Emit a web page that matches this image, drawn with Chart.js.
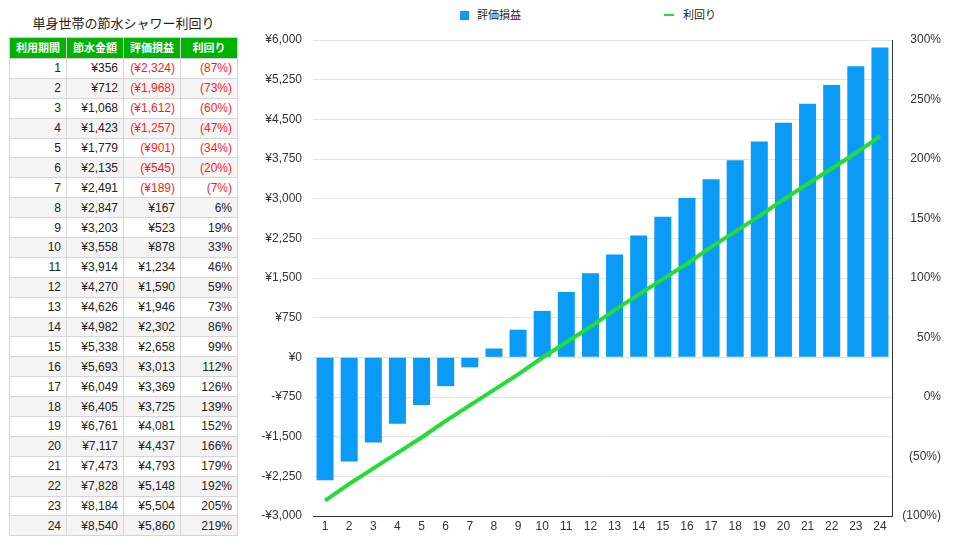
<!DOCTYPE html>
<html>
<head>
    <meta charset="utf-8">
    <title>単身世帯の節水シャワー利回り</title>
    <script src="https://cdn.jsdelivr.net/npm/chart.js"></script>
    <style>
        body {
            margin: 0;
            width: 960px;
            height: 545px;
            background: #fff;
            font-family: "Liberation Sans", Arial, "Noto Sans CJK JP", sans-serif;
            color: #222;
            position: relative;
            overflow: hidden;
        }
        .title {
            position: absolute;
            left: 9px;
            top: 13px;
            width: 229px;
            text-align: center;
            font-size: 13px;
        }
        table {
            position: absolute;
            left: 9px;
            top: 37px;
            width: 229px;
            border-collapse: collapse;
            table-layout: fixed;
            font-size: 12px;
        }
        th, td {
            border: 1px solid #d6d6d6;
            padding: 0 5px;
            height: 18.9px;
            line-height: 18px;
            text-align: right;
        }
        th {
            background: #00b300;
            color: #fff;
            font-size: 11px;
            text-align: center;
            height: 20px;
            padding: 0 2px;
            border-color: #d0d0d0;
        }
        tr:nth-child(odd) td { background: #f4f4f4; }
        .neg { color: #ff1a1a; }
        .legend {
            position: absolute;
            top: 8px;
            font-size: 11px;
            line-height: 14px;
        }
        .legend span.box {
            display: inline-block;
            width: 9px;
            height: 9px;
            vertical-align: -1px;
            margin-right: 8px;
        }
        .legend span.line {
            display: inline-block;
            width: 10px;
            height: 2px;
            vertical-align: 3px;
            margin-right: 9px;
        }
        #chartWrap {
            position: absolute;
            left: 250px;
            top: 0;
        }
    </style>
</head>
<body>
    <div class="title">単身世帯の節水シャワー利回り</div>
    <table id="dataTable"></table>
    <div id="legend"></div>
    <div id="chartWrap">
        <canvas id="yieldChart" width="710" height="545"></canvas>
    </div>

    <script>
        // データ（表とグラフ共通）
        const headers = ['利用期間', '節水金額', '評価損益', '利回り'];
        const periods = [1, 2, 3, 4, 5, 6, 7, 8, 9, 10, 11, 12, 13, 14, 15, 16, 17, 18, 19, 20, 21, 22, 23, 24];
        const savings = [356, 712, 1068, 1423, 1779, 2135, 2491, 2847, 3203, 3558, 3914, 4270,
                         4626, 4982, 5338, 5693, 6049, 6405, 6761, 7117, 7473, 7828, 8184, 8540];
        const gains = [-2324, -1968, -1612, -1257, -901, -545, -189, 167, 523, 878, 1234, 1590,
                       1946, 2302, 2658, 3013, 3369, 3725, 4081, 4437, 4793, 5148, 5504, 5860];
        const yields = [-87, -73, -60, -47, -34, -20, -7, 6, 19, 33, 46, 59,
                        73, 86, 99, 112, 126, 139, 152, 166, 179, 192, 205, 219];

        const yen = n => n < 0 ? '(¥' + Math.abs(n).toLocaleString('en-US') + ')' : '¥' + n.toLocaleString('en-US');
        const pct = n => n < 0 ? '(' + Math.abs(n) + '%)' : n + '%';

        // 表
        const table = document.getElementById('dataTable');
        let html = '<tr>' + headers.map(h => '<th>' + h + '</th>').join('') + '</tr>';
        periods.forEach((p, i) => {
            const neg = gains[i] < 0 ? ' class="neg"' : '';
            html += '<tr><td>' + p + '</td><td>' + yen(savings[i]) + '</td>' +
                    '<td' + neg + '>' + yen(gains[i]) + '</td>' +
                    '<td' + (yields[i] < 0 ? ' class="neg"' : '') + '>' + pct(yields[i]) + '</td></tr>';
        });
        table.innerHTML = html;

        const barColor = '#0a9bf7';
        const lineColor = '#22dd33';

        const ctx = document.getElementById('yieldChart').getContext('2d');
        Chart.defaults.font.family = '"Liberation Sans", Arial, "Noto Sans CJK JP", sans-serif';
        Chart.defaults.font.size = 12;
        Chart.defaults.color = '#333';

        const chart = new Chart(ctx, {
            type: 'bar',
            data: {
                labels: periods,
                datasets: [{
                    label: '評価損益',
                    data: gains,
                    backgroundColor: barColor,
                    barPercentage: 0.82,
                    categoryPercentage: 0.86,
                    yAxisID: 'y',
                    order: 1
                }, {
                    type: 'line',
                    label: '利回り',
                    data: yields,
                    borderColor: lineColor,
                    borderWidth: 4,
                    pointRadius: 0,
                    fill: false,
                    yAxisID: 'y2',
                    order: 0
                }]
            },
            options: {
                responsive: false,
                animation: false,
                layout: { padding: { top: 40, left: 0, right: 19, bottom: 0 } },
                plugins: {
                    legend: { display: false },
                    tooltip: { enabled: false }
                },
                scales: {
                    x: {
                        grid: { display: false, drawTicks: false },
                        border: { display: true, color: '#333', width: 1 },
                        ticks: { padding: 3, maxRotation: 0, autoSkip: false },
                        afterFit: s => { s.height = 29; }
                    },
                    y: {
                        position: 'left',
                        min: -3000,
                        max: 6000,
                        ticks: {
                            stepSize: 750,
                            padding: 11,
                            callback: v => v < 0 ? '-¥' + Math.abs(v).toLocaleString('en-US') : '¥' + v.toLocaleString('en-US')
                        },
                        grid: { color: '#e3e3e3', drawTicks: false },
                        border: { display: false },
                        afterFit: s => { s.width = 63; }
                    },
                    y2: {
                        position: 'right',
                        min: -100,
                        max: 300,
                        ticks: {
                            stepSize: 50,
                            padding: 12,
                            crossAlign: 'far',
                            callback: v => pct(v)
                        },
                        grid: { drawOnChartArea: false, drawTicks: false },
                        border: { display: true, color: '#333', width: 1 },
                        afterFit: s => { s.width = 49; }
                    }
                }
            }
        });

        // 凡例
        const legend = document.getElementById('legend');
        const legendX = [460, 664];
        chart.data.datasets.forEach((ds, i) => {
            const item = document.createElement('div');
            item.className = 'legend';
            item.style.left = legendX[i] + 'px';
            const mark = ds.type === 'line'
                ? '<span class="line" style="background:' + ds.borderColor + '"></span>'
                : '<span class="box" style="background:' + ds.backgroundColor + '"></span>';
            item.innerHTML = mark + ds.label;
            legend.appendChild(item);
        });
    </script>
</body>
</html>
